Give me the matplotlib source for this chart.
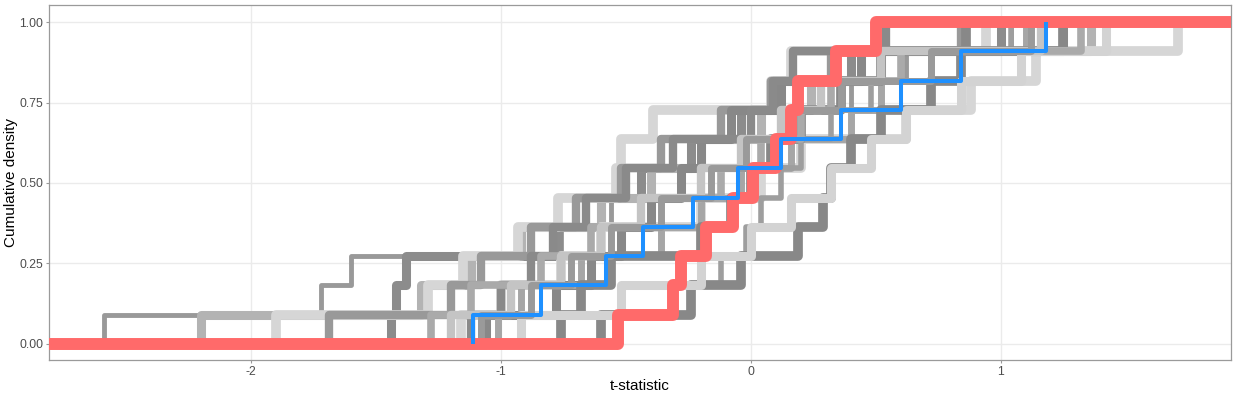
import numpy as np
import matplotlib
matplotlib.use("Agg")
import matplotlib.pyplot as plt

plt.rcParams['font.family'] = ['Liberation Sans', 'DejaVu Sans']

# permuted t-statistics (gray ECDFs), 11 values each
perm_1 = [-2.59, -1.72, -1.60, -0.76, -0.56, -0.20, 0.04, 0.20, 0.40, 0.62, 1.04]
perm_2 = [-1.44, -1.42, -1.38, -0.77, -0.60, -0.44, -0.24, -0.04, 0.08, 0.40, 1.00]
perm_3 = [-2.20, -1.32, -1.12, -0.92, -0.60, -0.40, -0.20, 0.04, 0.24, 0.52, 1.36]
perm_4 = [-1.90, -1.29, -1.15, -0.93, -0.77, -0.54, -0.52, -0.39, 0.08, 0.16, 0.94]
perm_5 = [-1.69, -1.20, -1.08, -0.88, -0.70, -0.52, -0.36, -0.12, 0.08, 0.32, 0.84]
perm_6 = [-1.16, -1.00, -0.76, -0.60, -0.20, 0.04, 0.20, 0.62, 0.88, 1.14, 1.71]
perm_7 = [-1.06, -0.78, -0.64, -0.52, -0.40, -0.28, -0.20, -0.08, 0.12, 0.44, 1.25]
perm_8 = [-1.01, -0.92, -0.68, -0.36, -0.20, -0.04, 0.16, 0.40, 0.52, 0.72, 1.10]
perm_9 = [-0.76, -0.68, -0.56, -0.20, -0.08, 0.00, 0.08, 0.20, 0.36, 0.52, 0.86]
perm_10 = [-1.08, -0.24, -0.12, -0.02, 0.04, 0.12, 0.20, 0.32, 0.48, 0.60, 1.04]
perm_11 = [-0.60, -0.24, -0.04, 0.19, 0.29, 0.32, 0.40, 0.52, 0.72, 0.84, 1.25]
perm_12 = [-0.92, -0.52, -0.20, 0.00, 0.16, 0.32, 0.48, 0.62, 0.84, 1.08, 1.42]
perm_13 = [-1.12, -1.00, -0.88, -0.79, -0.66, -0.50, -0.31, 0.00, 0.09, 0.17, 0.54]
perm_14 = [-1.28, -1.12, -0.84, -0.64, -0.44, -0.12, 0.04, 0.20, 0.32, 0.60, 1.32]
perm_15 = [-1.20, -0.96, -0.76, -0.60, -0.44, -0.20, -0.04, 0.12, 0.28, 0.52, 1.16]
perm_16 = [-1.08, -0.88, -0.72, -0.56, -0.36, -0.16, -0.02, 0.16, 0.36, 0.72, 1.12]

# observed (red) and reference (blue)
observed = [-0.53, -0.31, -0.28, -0.18, -0.07, 0.01, 0.10, 0.16, 0.19, 0.34, 0.50]
reference = [-1.11, -0.84, -0.58, -0.43, -0.23, -0.05, 0.12, 0.36, 0.60, 0.84, 1.18]

perms = [perm_1, perm_2, perm_3, perm_4, perm_5, perm_6, perm_7, perm_8,
         perm_9, perm_10, perm_11, perm_12, perm_13, perm_14, perm_15, perm_16]
gray_cols = ['#999999', '#8c8c8c', '#b3b3b3', '#d6d6d6', '#999999', '#d6d6d6',
             '#888888', '#a6a6a6', '#888888', '#9e9e9e', '#888888', '#d3d3d3',
             '#8a8a8a', '#aaaaaa', '#c4c4c4', '#9a9a9a']
gray_lw = [3.5, 6.5, 6.5, 7, 6, 7, 6.5, 5, 7, 4, 7, 6.5, 6, 5.5, 6, 5]


def ecdf_padded(vals):
    v = np.sort(np.asarray(vals))
    n = len(v)
    xs = np.concatenate([[-10], v, [10]])
    ys = np.concatenate([[0], np.arange(1, n + 1) / n, [1]])
    return xs, ys


fig = plt.figure(figsize=(12.38, 4.0), dpi=100)
ax = fig.add_axes([0.0396, 0.1, 0.9547, 0.8875])

for vals, c, lw in zip(perms, gray_cols, gray_lw):
    xs, ys = ecdf_padded(vals)
    ax.plot(xs, ys, drawstyle='steps-post', color=c, lw=lw,
            solid_joinstyle='round', solid_capstyle='butt', zorder=2)

xs, ys = ecdf_padded(observed)
ax.plot(xs, ys, drawstyle='steps-post', color='#ff6a6a', lw=8.6,
        solid_joinstyle='round', solid_capstyle='butt', zorder=3)

r = np.sort(np.asarray(reference))
n = len(r)
ax.plot(np.concatenate([[r[0]], r]), np.concatenate([[0], np.arange(1, n + 1) / n]),
        drawstyle='steps-post', color='#1e90ff', lw=2.9,
        solid_joinstyle='round', solid_capstyle='butt', zorder=4)

ax.set_xlim(-2.808, 1.92)
ax.set_ylim(-0.05, 1.053)
ax.set_xticks([-2, -1, 0, 1])
ax.set_xticklabels(['-2', '-1', '0', '1'])
ax.set_yticks([0, 0.25, 0.5, 0.75, 1.0])
ax.set_yticklabels(['0.00', '0.25', '0.50', '0.75', '1.00'])
ax.grid(True, color='#ebebeb', lw=1.0, zorder=0)
ax.set_axisbelow(True)
for s in ax.spines.values():
    s.set_color('#9a9a9a')
    s.set_linewidth(0.9)
ax.tick_params(axis='both', colors='#9a9a9a', labelcolor='#4d4d4d',
               labelsize=8.8, length=2.5, width=0.8, pad=1.5)
ax.set_xlabel('t-statistic', fontsize=11, color='black', labelpad=1)
ax.set_ylabel('Cumulative density', fontsize=11, color='black')
ax.yaxis.set_label_coords(-0.026, 0.5)

fig.savefig('out.png', dpi=100)
